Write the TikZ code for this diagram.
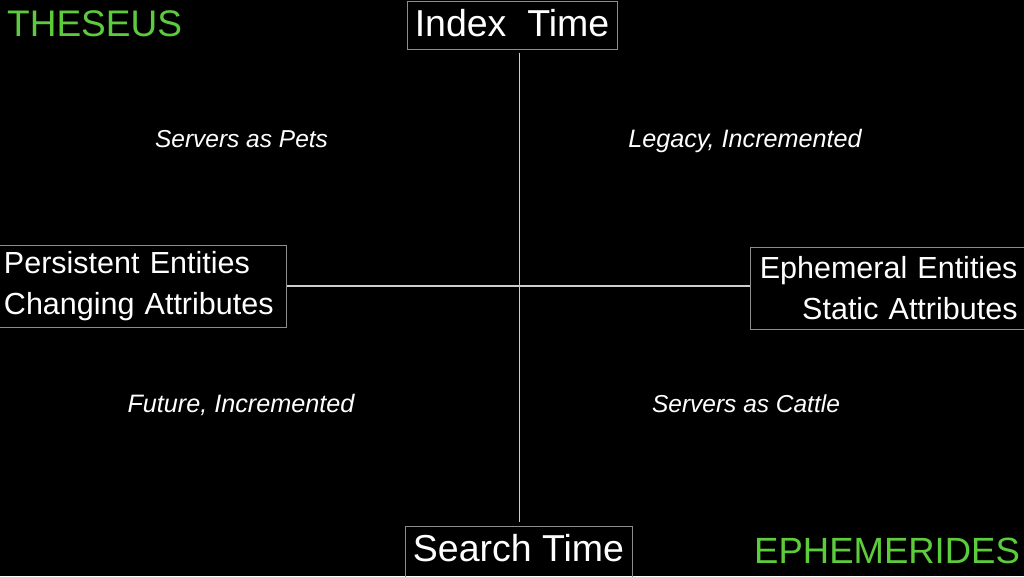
\documentclass[tikz,border=0pt]{standalone}
\usepackage{fontspec}
\setmainfont{Liberation Sans}
\definecolor{grn}{RGB}{92,204,60}
\definecolor{boxline}{RGB}{140,140,140}
\definecolor{axisline}{RGB}{205,205,205}
\begin{document}
\begin{tikzpicture}[x=1pt,y=-1pt,
  boxnode/.style={draw=boxline, line width=1pt, text=white, inner ysep=0pt},
  quad/.style={text=white, anchor=base, inner sep=0pt, font=\fontsize{24.5}{29}\selectfont\itshape},
  tag/.style={text=grn, anchor=base west, inner sep=0pt},
  axis/.style={draw=axisline, line width=1.2pt}]
\fill[black] (0,0) rectangle (1024,576);
\useasboundingbox (0,0) rectangle (1024,576);
\clip (0,0) rectangle (1024,576);

\coordinate (c) at (519.5,286);

\node[boxnode, minimum width=210, minimum height=48, inner xsep=0pt,
      text height=30, text depth=8,
      font=\fontsize{37.5}{45}\selectfont] (top) at (512,25) {Index\ \ Time};
\node[boxnode, minimum width=227, minimum height=64, inner xsep=0pt,
      text height=30, text depth=24,
      font=\fontsize{37.5}{45}\selectfont] (bot) at (518.5,558) {Search Time};
\node[boxnode, anchor=west, minimum height=82, inner xsep=4.5pt,
      text width=278, align=left,
      font=\fontsize{30.5}{41}\selectfont] (left) at (-1,286)
      {Persistent Entities\\Changing Attributes};
\node[boxnode, anchor=west, minimum height=82, inner xsep=8pt,
      text width=259, align=right,
      font=\fontsize{30.5}{41}\selectfont] (right) at (750,288)
      {Ephemeral Entities\\Static Attributes};

\draw[axis] ([yshift=-3pt]c |- top.south) -- ([yshift=4pt]c |- bot.north);
\draw[axis] (left.east |- c) -- (right.west |- c);

\node[quad] (q1) at (241.5,147) {Servers as Pets};
\node[quad, font=\fontsize{25.2}{29}\selectfont\itshape] (q2) at (745,147) {Legacy, Incremented};
\node[quad, font=\fontsize{25.2}{29}\selectfont\itshape] (q3) at (241,412) {Future, Incremented};
\node[quad] (q4) at (746,412) {Servers as Cattle};

\node[tag, font=\fontsize{37}{44}\selectfont] (theseus) at (7,36) {THESEUS};
\node[tag, font=\fontsize{36.5}{44}\selectfont] (ephem) at (754,563) {EPHEMERIDES};
\end{tikzpicture}
\end{document}
